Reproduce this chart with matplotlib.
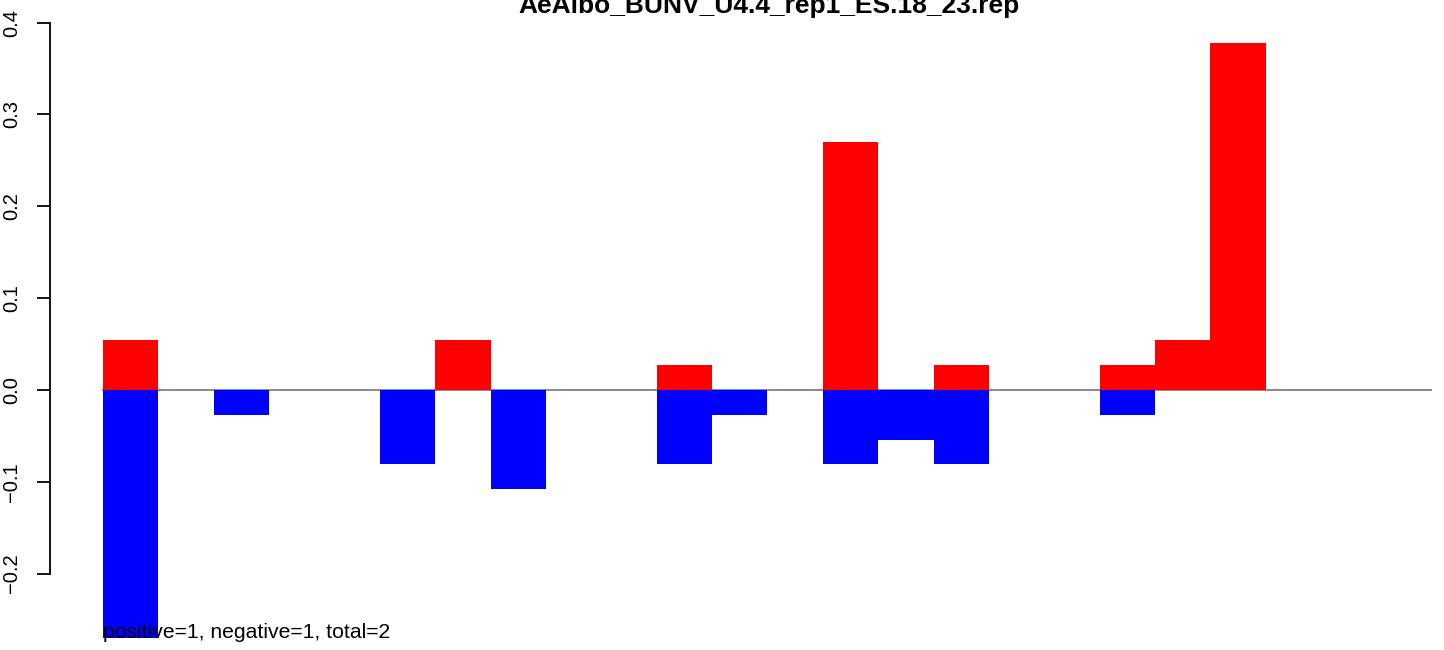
import matplotlib as mpl
import matplotlib.pyplot as plt
import numpy as np

mpl.rcParams['font.family'] = ['Liberation Sans', 'DejaVu Sans']

TITLE = "AeAlbo_BUNV_U4.4_rep1_ES.18_23.rep"
NOTE = "positive=1, negative=1, total=2"

# fraction per position (counts / 37), 23 positions
positive = np.array([2, 0, 0, 0, 0, 0, 2, 0, 0, 0, 1, 0, 0, 10, 0, 1, 0, 0, 1, 2, 14, 0, 0]) / 37
negative = -np.array([10, 0, 1, 0, 0, 3, 0, 4, 0, 0, 3, 1, 0, 3, 2, 3, 0, 0, 1, 0, 0, 0, 0]) / 37
yticks = [-0.2, -0.1, 0.0, 0.1, 0.2, 0.3, 0.4]

W, H = 1444, 650
fig = plt.figure(figsize=(W / 100, H / 100), dpi=100)
# plot region in pixels: x 50..1432, y 18.7..650 (from top)
ax = fig.add_axes([50 / W, 0, (1432 - 50) / W, (H - 18.7) / H])

pos = np.arange(len(positive))
ax.axhline(0, xmin=0.957 / 24.957, xmax=1, color='#808080', lw=1.3, zorder=1)
ax.bar(pos, positive, width=1, align='edge', color='#ff0000', lw=0, zorder=2)
ax.bar(pos, negative, width=1, align='edge', color='#0000ff', lw=0, zorder=2)

ax.set_xlim(-0.957, 24.0)
ax.set_ylim(-(H - 390) / 918.25, 0.4043)

for s in ['top', 'right', 'bottom']:
    ax.spines[s].set_visible(False)
ax.spines['left'].set_bounds(yticks[0], yticks[-1])
ax.spines['left'].set_linewidth(1.3)
ax.set_xticks([])
ax.set_yticks(yticks)
ax.set_yticklabels([('%.1f' % t).replace('-', '\u2212') for t in yticks])
ax.tick_params(axis='y', length=9.4, width=1.3, pad=11.5, labelsize=14.5,
               labelrotation=90)
for lab in ax.get_yticklabels():
    lab.set_va('center')

ax.text(0, negative.min(), NOTE, ha='left', va='baseline', fontsize=15.2,
        zorder=3)

fig.text(768.5 / W, 1 - 13 / H, TITLE, ha='center', va='baseline',
         fontsize=19, fontweight='bold')

fig.savefig('out.png', dpi=100)
